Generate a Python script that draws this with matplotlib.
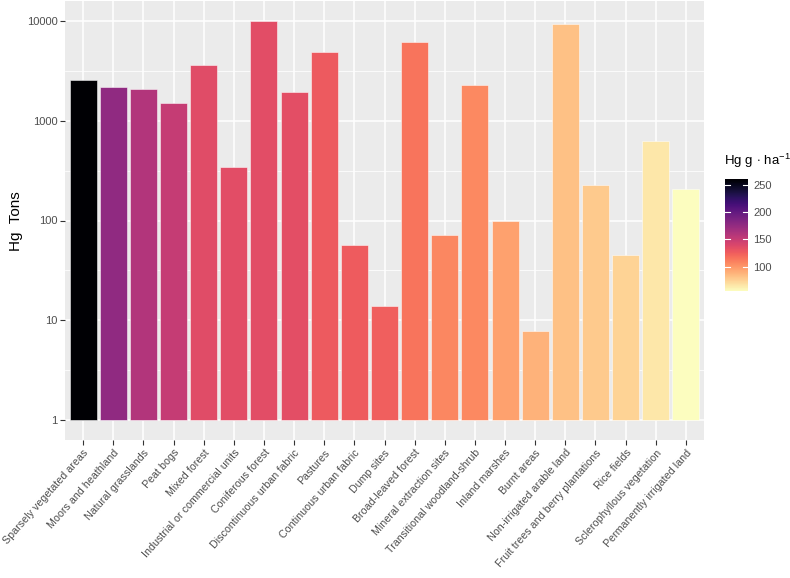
import numpy as np
import matplotlib
matplotlib.use("Agg")
import matplotlib.pyplot as plt
from matplotlib.colors import Normalize
from matplotlib.ticker import FixedLocator, NullFormatter
import matplotlib.transforms as mtransforms
import matplotlib.cm as cm

plt.rcParams["font.family"] = ["Liberation Sans", "DejaVu Sans"]
plt.rcParams["mathtext.fontset"] = "custom"
plt.rcParams["mathtext.rm"] = "Liberation Sans"
plt.rcParams["mathtext.it"] = "Liberation Sans:italic"
plt.rcParams["mathtext.bf"] = "Liberation Sans:bold"

categories = [
    "Sparsely vegetated areas", "Moors and heathland", "Natural grasslands", "Peat bogs",
    "Mixed forest", "Industrial or commercial units", "Coniferous forest",
    "Discontinuous urban fabric", "Pastures", "Continuous urban fabric", "Dump sites",
    "Broad-leaved forest", "Mineral extraction sites", "Transitional woodland-shrub",
    "Inland marshes", "Burnt areas", "Non-irrigated arable land",
    "Fruit trees and berry plantations", "Rice fields", "Sclerophyllous vegetation",
    "Permanently irrigated land",
]
hg_tons = [2550, 2170, 2060, 1510, 3610, 341, 9950, 1930, 4920, 56.8, 13.8,
           6100, 71.5, 2256, 99.5, 7.77, 9250, 229, 45.4, 623, 208]
hg_g_ha = [261, 177, 160, 150, 136, 135, 135, 134, 127, 126, 125,
           115, 107, 106, 96, 88, 82, 78, 74, 65, 55]
y_ticks = [1, 10, 100, 1000, 10000]
cbar_ticks = [100, 150, 200, 250]

W, H = 790, 578
fig = plt.figure(figsize=(W / 100, H / 100), dpi=100)
fig.patch.set_facecolor("white")

ax = fig.add_axes([65 / W, (H - 440) / H, (704 - 65) / W, 439 / H])
ax.set_facecolor("#EBEBEB")

cmap = matplotlib.colormaps["magma_r"]
norm = Normalize(vmin=min(hg_g_ha), vmax=max(hg_g_ha))
x = np.arange(len(categories))
colors = [cmap(norm(v)) for v in hg_g_ha]

ax.set_yscale("log")
ax.bar(x, np.array(hg_tons) - 1, bottom=1, width=0.9, color=colors,
       edgecolor=(1, 1, 1, 0.5), linewidth=0.7, zorder=3)

ax.set_ylim(10 ** -0.2, 10 ** 4.2)
ax.set_xlim(-0.6, len(categories) - 0.4)
ax.yaxis.set_major_locator(FixedLocator(y_ticks))
ax.set_yticklabels([str(t) for t in y_ticks])
ax.yaxis.set_minor_locator(FixedLocator([10 ** (k + 0.5) for k in range(-1, 5)]))
ax.yaxis.set_minor_formatter(NullFormatter())
ax.set_xticks(x)
ax.set_xticklabels(categories, rotation=48.5, ha="right", va="top",
                   rotation_mode="anchor", fontsize=7.7)
shift = mtransforms.ScaledTranslation(4 / 100, -2 / 100, fig.dpi_scale_trans)
for lab in ax.get_xticklabels():
    lab.set_transform(lab.get_transform() + shift)

ax.grid(True, which="major", color="white", linewidth=1.1, zorder=0)
ax.grid(True, which="minor", axis="y", color="white", linewidth=0.55, zorder=0)
ax.set_axisbelow(True)
for s in ax.spines.values():
    s.set_visible(False)
ax.tick_params(axis="both", which="major", length=3.5, width=0.8, color="#333333",
               labelcolor="#4D4D4D", pad=2)
ax.tick_params(axis="y", which="major", labelsize=8)
ax.tick_params(axis="y", which="minor", length=0)
fig.text(16 / W, 1 - 221 / H, "Hg  Tons", rotation=90, fontsize=11,
         ha="center", va="center", color="black")

cax = fig.add_axes([725 / W, (H - 291) / H, 23 / W, 112 / H])
sm = cm.ScalarMappable(norm=norm, cmap=cmap)
cb = fig.colorbar(sm, cax=cax, ticks=cbar_ticks)
cb.outline.set_visible(False)
cb.ax.tick_params(length=0, labelsize=8, labelcolor="#4D4D4D", pad=4)
for t in cbar_ticks:
    cax.plot([0, 0.2], [t, t], color="white", lw=0.8, transform=cax.get_yaxis_transform())
    cax.plot([0.8, 1.0], [t, t], color="white", lw=0.8, transform=cax.get_yaxis_transform())
fig.text(724 / W, 1 - 161 / H, r"Hg g$\,\cdot\,$ha$^{-1}$", fontsize=9.5, ha="left",
         va="center", color="black")

fig.savefig("out.png", dpi=100)
